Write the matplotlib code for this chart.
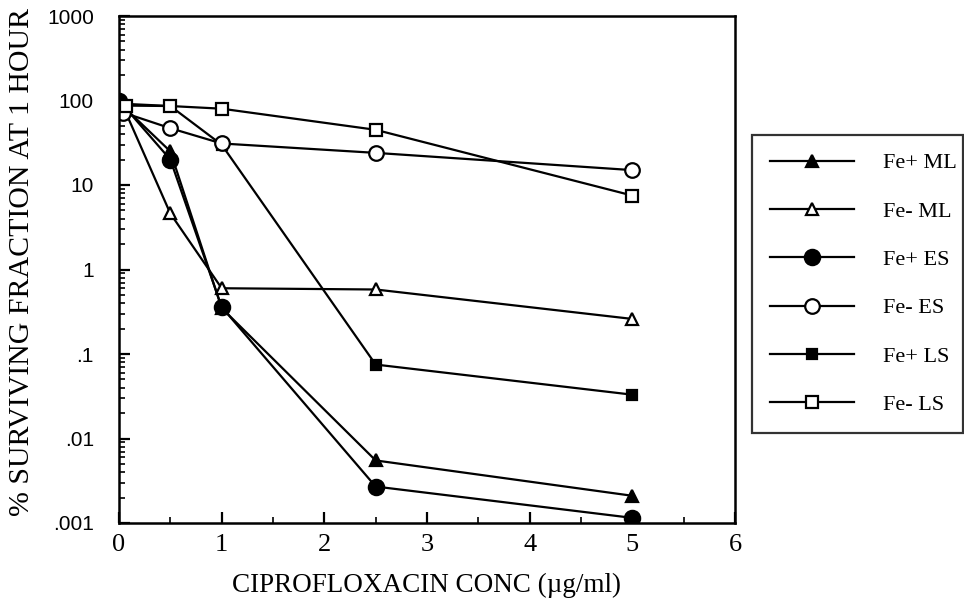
import numpy as np
import matplotlib
matplotlib.use("Agg")
import matplotlib.pyplot as plt
from matplotlib.ticker import FixedLocator, LogLocator, NullFormatter

plt.rcParams['font.family'] = ['Liberation Serif', 'DejaVu Serif']

# Data (x = ciprofloxacin ug/ml, y = % surviving)
fe_plus_ml_x = [0, 0.5, 1, 2.5, 5]
fe_plus_ml_y = [95, 25, 0.35, 0.0055, 0.0021]

fe_minus_ml_x = [0.05, 0.5, 1, 2.5, 5]
fe_minus_ml_y = [80, 4.6, 0.6, 0.58, 0.26]

fe_plus_es_x = [0, 0.5, 1, 2.5, 5]
fe_plus_es_y = [100, 20, 0.36, 0.0027, 0.00115]

fe_minus_es_x = [0.04, 0.5, 1, 2.5, 5]
fe_minus_es_y = [72, 47, 31, 24, 15]

fe_plus_ls_x = [0, 0.5, 1, 2.5, 5]
fe_plus_ls_y = [92, 86, 30, 0.075, 0.033]

fe_minus_ls_x = [0.07, 0.5, 1, 2.5, 5]
fe_minus_ls_y = [87, 86, 80, 45, 7.5]

labels = ['Fe+ ML', 'Fe- ML', 'Fe+ ES', 'Fe- ES', 'Fe+ LS', 'Fe- LS']
y_ticks = [0.001, 0.01, 0.1, 1, 10, 100, 1000]
y_ticklabels = ['.001', '.01', '.1', '1', '10', '100', '1000']

fig = plt.figure(figsize=(9.64, 6.07), dpi=100)
ax = fig.add_axes([119 / 964, 1 - 523 / 607, (735 - 119) / 964, (523 - 16) / 607])

lw = 1.6
mew = 1.6
style = dict(color='black', lw=lw, mew=mew, mec='black')

# draw order: later series on top
h_pls, = ax.plot(fe_plus_ls_x, fe_plus_ls_y, marker='s', ms=7, mfc='black', **style)
h_pml, = ax.plot(fe_plus_ml_x, fe_plus_ml_y, marker='^', ms=8, mfc='black', **style)
h_mml, = ax.plot(fe_minus_ml_x, fe_minus_ml_y, marker='^', ms=9, mfc='white', **style)
h_pes, = ax.plot(fe_plus_es_x, fe_plus_es_y, marker='o', ms=11, mfc='black', **style)
h_mes, = ax.plot(fe_minus_es_x, fe_minus_es_y, marker='o', ms=10.5, mfc='white', **style)
h_mls, = ax.plot(fe_minus_ls_x, fe_minus_ls_y, marker='s', ms=8, mfc='white', **style)

ax.set_yscale('log')
ax.set_ylim(0.001, 1000)
ax.set_xlim(0, 6)

ax.yaxis.set_major_locator(FixedLocator(y_ticks))
ax.set_yticklabels(y_ticklabels, family='Liberation Sans', fontsize=15)
ax.yaxis.set_minor_locator(LogLocator(base=10, subs=np.arange(2, 10)))
ax.yaxis.set_minor_formatter(NullFormatter())

ax.set_xticks(range(0, 7))
ax.set_xticklabels([str(i) for i in range(0, 7)], fontsize=19)
ax.set_xticks(np.arange(0.5, 6, 1), minor=True)

ax.tick_params(axis='both', which='major', direction='in', length=8, width=1.6)
ax.tick_params(axis='both', which='minor', direction='in', length=4, width=1.2)
ax.tick_params(axis='x', which='major', pad=8)
ax.tick_params(axis='y', which='major', pad=18)
ax.tick_params(top=False, right=False, which='both')

for sp in ax.spines.values():
    sp.set_linewidth(1.8)

ax.set_xlabel('CIPROFLOXACIN CONC (µg/ml)', fontsize=19.5)
ax.xaxis.set_label_coords(0.5, -0.098)
ax.set_ylabel('% SURVIVING FRACTION AT 1 HOUR', fontsize=21.5)
ax.yaxis.label.set_va('center')
ax.yaxis.set_label_coords(-0.157, 0.515)

leg = fig.legend([h_pml, h_mml, h_pes, h_mes, h_pls, h_mls], labels,
                 loc='upper left', bbox_to_anchor=(752 / 964, 1 - 135 / 607, 211 / 964, 0.0),
                 mode='expand', fontsize=16, frameon=True, fancybox=False,
                 edgecolor='black', handlelength=3.8, handletextpad=1.3,
                 labelspacing=1.25, borderpad=0.8, borderaxespad=0.0)
leg.get_frame().set_linewidth(1.6)

fig.savefig('out.png', dpi=100)
